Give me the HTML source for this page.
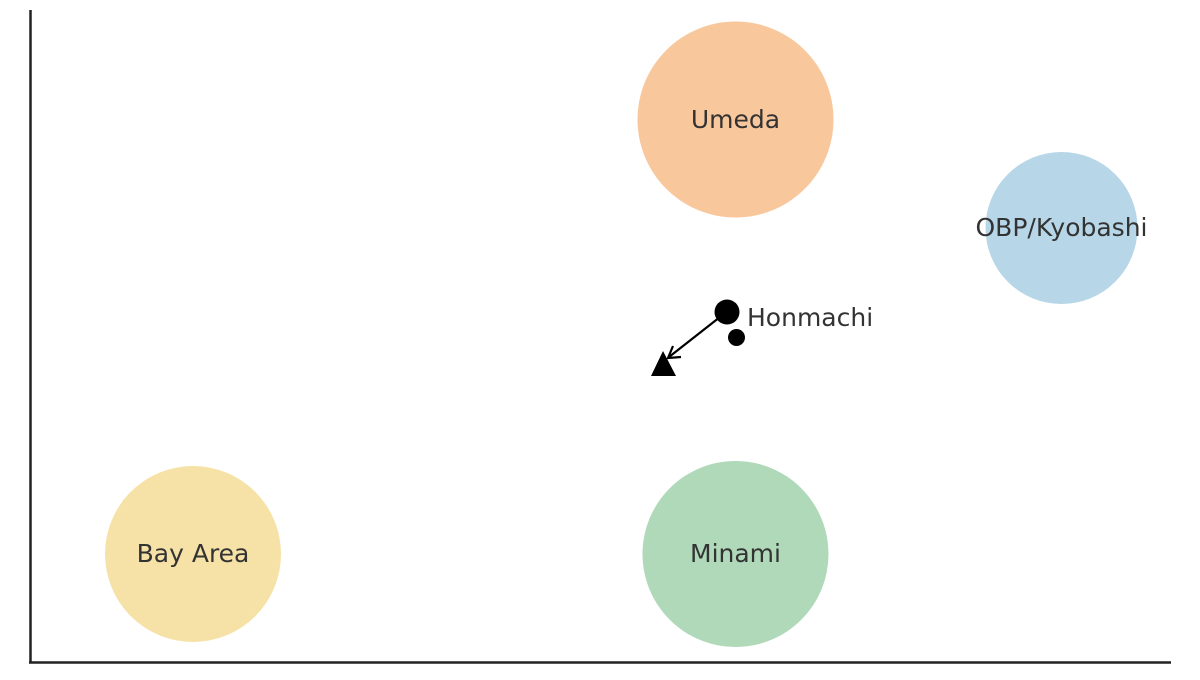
<!DOCTYPE html>
<html><head><style>body{margin:0;background:#fff}</style></head><body>
<svg width="1200" height="675" xmlns="http://www.w3.org/2000/svg" font-family="DejaVu Sans, sans-serif" font-size="25" fill="#333">
<rect width="1200" height="675" fill="#fff"/>
<circle cx="735.5" cy="119.5" r="98" fill="#f8c79c"/>
<circle cx="1061.5" cy="228" r="76" fill="#b7d6e8"/>
<circle cx="193" cy="554" r="88" fill="#f6e2a6"/>
<circle cx="735.5" cy="554" r="93" fill="#afd9b9"/>
<text x="735.5" y="128" text-anchor="middle">Umeda</text>
<text x="1061.5" y="236" text-anchor="middle">OBP/Kyobashi</text>
<text x="193" y="562" text-anchor="middle">Bay Area</text>
<text x="735.5" y="562" text-anchor="middle">Minami</text>
<text x="747" y="326">Honmachi</text>
<circle cx="727" cy="312" r="12.5" fill="#000"/>
<circle cx="736.5" cy="337.5" r="8.5" fill="#000"/>
<polygon points="663,351 651,376 676,376" fill="#000"/>
<line x1="720" y1="317" x2="669" y2="357" stroke="#000" stroke-width="2.2"/>
<polyline points="673,346 668,358 681,357" fill="none" stroke="#000" stroke-width="2.2"/>
<line x1="30.5" y1="10" x2="30.5" y2="663" stroke="#222" stroke-width="2.5"/>
<line x1="29" y1="662.5" x2="1171" y2="662.5" stroke="#222" stroke-width="2.5"/>
</svg>
</body></html>
